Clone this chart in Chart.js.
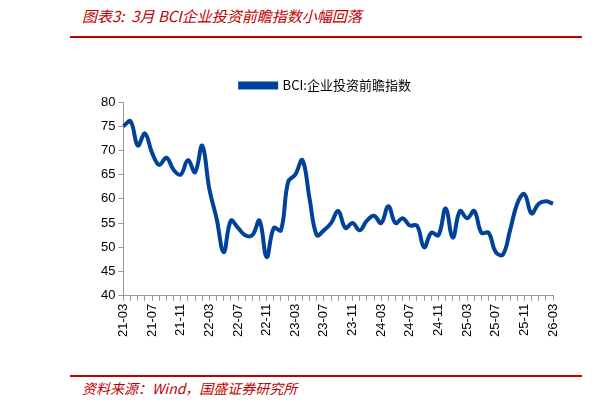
<!DOCTYPE html><html><head><meta charset="utf-8">
<script src="https://cdn.jsdelivr.net/npm/chart.js@4"></script>
<style>body{margin:0;width:611px;height:410px;position:relative;background:#fff;font-family:"Noto Sans CJK SC",sans-serif}
#t{position:absolute;left:82px;top:5px;color:#c00000;font-style:italic;font-size:15px}
#f{position:absolute;left:82px;top:378px;color:#c00000;font-style:italic;font-size:14px}
.l{position:absolute;left:70px;width:512px;height:1.5px;background:#c00000}
canvas{position:absolute;left:0;top:0}</style></head><body>
<div id="t">图表3:&nbsp; 3月 BCI企业投资前瞻指数小幅回落</div><div class="l" style="top:36px"></div>
<div class="l" style="top:375px"></div><div id="f">资料来源：Wind，国盛证券研究所</div>
<div style="position:absolute;left:0;top:0;width:611px;height:410px"><canvas id="c"></canvas></div>
<script>
const years=['21','22','23','24','25','26'];
const labels=[];
for(let y=0;y<6;y++)for(let m=1;m<=12;m++){if((y==0&&m<3)||(y==5&&m>3))continue;labels.push(years[y]+'-'+String(m).padStart(2,'0'));}
const bci=[75,76,71,73.5,69.5,67,68.5,66,65,68,65.5,71,62,56,49,55.5,54,52.5,52.5,55.5,48,54,53.5,63.5,65,68,60,52.5,53.5,55,57.5,54,55,53.5,55.5,56.5,55,58.5,55,56,54.5,54.5,50,53,52.5,58,52,57.5,56,57.5,53,53,49,48.5,53.5,59,61,57,59,59.5,59];
new Chart(document.getElementById('c'),{type:'line',data:{labels,datasets:[{label:'BCI:企业投资前瞻指数',data:bci,borderColor:'#004299',backgroundColor:'#004299',borderWidth:4,pointRadius:0,tension:0.4}]},
options:{responsive:true,maintainAspectRatio:false,animation:false,
layout:{padding:{top:73,left:98,right:58,bottom:70}},
plugins:{legend:{labels:{boxWidth:36,boxHeight:4,color:'#000',font:{size:13,family:'"Noto Sans CJK SC"'},padding:6}},tooltip:{enabled:false}},
scales:{x:{offset:false,grid:{drawOnChartArea:false,tickLength:5,color:'#999'},border:{color:'#999'},ticks:{autoSkip:false,maxRotation:90,minRotation:90,color:'#000',font:{size:13,family:'Liberation Sans'},callback:(v,i)=>i%4==0?labels[i]:''}},
y:{min:40,max:80,grid:{drawOnChartArea:false,tickLength:5,color:'#999'},border:{color:'#999'},ticks:{stepSize:5,color:'#000',font:{size:13,family:'Liberation Sans'}}}}}});
</script></body></html>
